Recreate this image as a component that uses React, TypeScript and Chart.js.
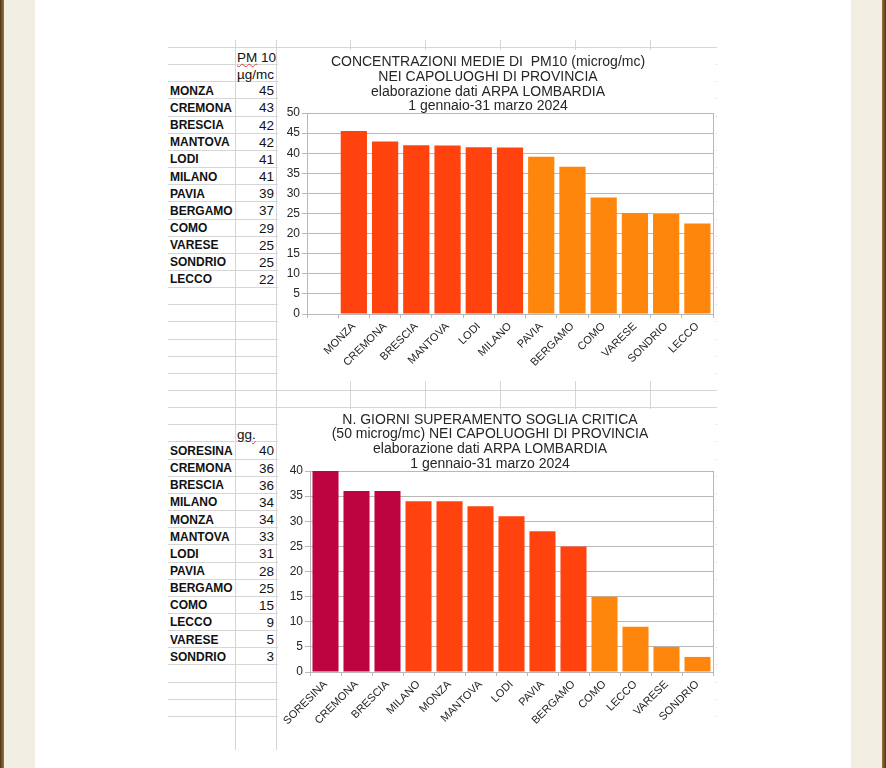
import React, { useEffect, useRef } from "react";
import { Chart, registerables } from "chart.js";

Chart.register(...registerables);

// ---------- DATA ----------
const PM10_CITIES = ["MONZA", "CREMONA", "BRESCIA", "MANTOVA", "LODI", "MILANO", "PAVIA", "BERGAMO", "COMO", "VARESE", "SONDRIO", "LECCO"];
const PM10_VALUES = [45.5, 42.9, 42.0, 41.9, 41.5, 41.4, 39.1, 36.6, 29.0, 25.1, 24.9, 22.5];
const PM10_TABLE = ["45", "43", "42", "42", "41", "41", "39", "37", "29", "25", "25", "22"];
const PM10_GROUPS = [1, 1, 1, 1, 1, 1, 2, 2, 2, 2, 2, 2];
const PM10_TITLE = [
  "CONCENTRAZIONI MEDIE DI  PM10 (microg/mc)",
  "NEI CAPOLUOGHI DI PROVINCIA",
  "elaborazione dati ARPA LOMBARDIA",
  "1 gennaio-31 marzo 2024",
];
const PM10_YTICKS = { min: 0, max: 50, step: 5 };

const DAYS_CITIES = ["SORESINA", "CREMONA", "BRESCIA", "MILANO", "MONZA", "MANTOVA", "LODI", "PAVIA", "BERGAMO", "COMO", "LECCO", "VARESE", "SONDRIO"];
const DAYS_VALUES = [40, 36, 36, 34, 34, 33, 31, 28, 25, 15, 9, 5, 3];
const DAYS_GROUPS = [0, 0, 0, 1, 1, 1, 1, 1, 1, 2, 2, 2, 2];
const DAYS_TITLE = [
  "N. GIORNI SUPERAMENTO SOGLIA CRITICA",
  "(50 microg/mc) NEI CAPOLUOGHI DI PROVINCIA",
  "elaborazione dati ARPA LOMBARDIA",
  "1 gennaio-31 marzo 2024",
];
const DAYS_YTICKS = { min: 0, max: 40, step: 5 };

// ---------- STYLE ----------
const GROUP_COLORS = ["#bd0340", "#ff420e", "#ff860d"];
const FONT = '"Liberation Sans", Arial, sans-serif';
const GRID = "#d6d6d6";
const PLOT_GRID = "#b8b8b8";
const TEXT = "#262626";

type ChartProps = {
  labels: string[];
  values: (number | null)[];
  colors: string[];
  title: string[];
  titleX: number;
  titleY: number;
  titleStep: number;
  yTicks: { min: number; max: number; step: number };
  yWidth: number;
  topPad: number;
  xHeight: number;
  left: number;
  top: number;
  width: number;
  height: number;
};

function BarChart(p: ChartProps) {
  const ref = useRef<HTMLCanvasElement | null>(null);
  useEffect(() => {
    if (!ref.current) return;
    const framePlugin = {
      id: "frameAndTitle",
      afterDatasetsDraw(chart: any) {
        const { ctx, chartArea } = chart;
        ctx.save();
        ctx.strokeStyle = PLOT_GRID;
        ctx.lineWidth = 1;
        ctx.beginPath();
        ctx.moveTo(Math.round(chartArea.right) + 0.5, chartArea.top);
        ctx.lineTo(Math.round(chartArea.right) + 0.5, chartArea.bottom);
        ctx.stroke();
        ctx.restore();
      },
      afterDraw(chart: any) {
        const { ctx } = chart;
        ctx.save();
        ctx.font = `14px ${FONT}`;
        ctx.fillStyle = TEXT;
        ctx.textAlign = "center";
        ctx.textBaseline = "middle";
        p.title.forEach((line, i) => ctx.fillText(line, p.titleX, p.titleY + i * p.titleStep));
        ctx.restore();
      },
    };
    const chart = new Chart(ref.current, {
      type: "bar",
      data: {
        labels: p.labels,
        datasets: [
          {
            data: p.values as any,
            backgroundColor: p.colors,
            borderWidth: 0,
            categoryPercentage: 1,
            barPercentage: 0.84,
          },
        ],
      },
      options: {
        responsive: false,
        animation: false,
        layout: { padding: { top: p.topPad, right: 3, bottom: 0, left: 0 } },
        plugins: { legend: { display: false }, title: { display: false }, tooltip: { enabled: false } },
        scales: {
          x: {
            grid: { display: true, drawOnChartArea: false, drawTicks: true, tickLength: 4, color: PLOT_GRID, offset: true },
            border: { display: true, color: PLOT_GRID },
            ticks: {
              minRotation: 45,
              maxRotation: 45,
              autoSkip: false,
              padding: 2,
              color: TEXT,
              font: { family: FONT, size: 11 },
            },
            afterFit: (s: any) => {
              s.height = p.xHeight;
            },
          },
          y: {
            min: p.yTicks.min,
            max: p.yTicks.max,
            grid: { color: PLOT_GRID, tickLength: 5 },
            border: { display: true, color: PLOT_GRID },
            ticks: { stepSize: p.yTicks.step, padding: 2, color: TEXT, font: { family: FONT, size: 12 } },
            afterFit: (s: any) => {
              s.width = p.yWidth;
            },
          },
        },
      },
      plugins: [framePlugin],
    });
    return () => chart.destroy();
  }, []);
  return (
    <canvas
      ref={ref}
      width={p.width}
      height={p.height}
      style={{ position: "absolute", left: p.left, top: p.top, width: p.width, height: p.height, background: "#fff", display: "block" }}
    />
  );
}

const ROW0 = 47;
const ROW_H = 17.15;
const rowTop = (k: number) => ROW0 + k * ROW_H;

export default function App() {
  const hLines = [];
  for (let k = 0; k <= 39; k++) {
    hLines.push(
      <div key={"h" + k} style={{ position: "absolute", left: 168, top: Math.round(rowTop(k)), width: 549, height: 1, background: GRID }} />
    );
  }
  const vFull = [235, 276];
  const vShort = [350, 425, 500, 575, 650];
  const nameStyle = (k: number): React.CSSProperties => ({
    position: "absolute",
    left: 170,
    top: rowTop(k) + 1.5,
    height: ROW_H,
    lineHeight: ROW_H + "px",
    fontSize: 12,
    fontWeight: "bold",
    color: "#111",
    whiteSpace: "nowrap",
  });
  const valStyle = (k: number): React.CSSProperties => ({
    position: "absolute",
    left: 236,
    width: 38,
    textAlign: "right",
    top: rowTop(k) + 1,
    height: ROW_H,
    lineHeight: ROW_H + 1 + "px",
    fontSize: 13.5,
    color: "#111",
    whiteSpace: "nowrap",
  });
  const headStyle = (k: number): React.CSSProperties => ({
    position: "absolute",
    left: 237,
    top: rowTop(k) + 1.5,
    height: ROW_H,
    lineHeight: ROW_H + 1 + "px",
    fontSize: 13.5,
    color: "#111",
    whiteSpace: "nowrap",
  });

  return (
    <div style={{ position: "absolute", left: 0, top: 0, width: 886, height: 768, overflow: "hidden", background: "#f3eee3", fontFamily: FONT }}>
      <div style={{ position: "absolute", left: 0, top: 0, width: 4, height: 768, background: "linear-gradient(90deg,#4e3718,#9a7436)" }} />
      <div style={{ position: "absolute", left: 882, top: 0, width: 4, height: 768, background: "linear-gradient(90deg,#9a7436,#4e3718)" }} />
      <div style={{ position: "absolute", left: 35, top: 0, width: 816, height: 768, background: "#fff" }} />
      {hLines}
      {vFull.map((x) => (
        <div key={"v" + x} style={{ position: "absolute", left: x, top: 40, width: 1, height: 710, background: GRID }} />
      ))}
      {vShort.map((x) => (
        <div key={"s" + x} style={{ position: "absolute", left: x, top: 40, width: 1, height: 700, background: GRID }} />
      ))}

      {/* table 1 */}
      <div style={headStyle(0)}>
        <span style={{ textDecoration: "underline wavy #e03a3a", textDecorationThickness: 1 }}>PM</span> 10
      </div>
      <div style={headStyle(1)}>µg/mc</div>
      {PM10_CITIES.map((c, i) => (
        <React.Fragment key={"t1" + c}>
          <div style={nameStyle(2 + i)}>{c}</div>
          <div style={valStyle(2 + i)}>{PM10_TABLE[i]}</div>
        </React.Fragment>
      ))}

      {/* table 2 */}
      <div style={headStyle(22)}>
        <span style={{ textDecoration: "underline wavy #e03a3a", textDecorationThickness: 1 }}>gg.</span>
      </div>
      {DAYS_CITIES.map((c, i) => (
        <React.Fragment key={"t2" + c}>
          <div style={nameStyle(23 + i)}>{c}</div>
          <div style={valStyle(23 + i)}>{String(DAYS_VALUES[i])}</div>
        </React.Fragment>
      ))}

      <BarChart
        labels={["", ...PM10_CITIES]}
        values={[null, ...PM10_VALUES]}
        colors={["#fff", ...PM10_GROUPS.map((g) => GROUP_COLORS[g])]}
        title={PM10_TITLE}
        titleX={210}
        titleY={12.5}
        titleStep={14.6}
        yTicks={PM10_YTICKS}
        yWidth={29}
        topPad={63}
        xHeight={67}
        left={278}
        top={50}
        width={438}
        height={331}
      />
      <BarChart
        labels={DAYS_CITIES}
        values={DAYS_VALUES}
        colors={DAYS_GROUPS.map((g) => GROUP_COLORS[g])}
        title={DAYS_TITLE}
        titleX={212}
        titleY={10.8}
        titleStep={14.7}
        yTicks={DAYS_YTICKS}
        yWidth={32}
        topPad={62}
        xHeight={68}
        left={278}
        top={409}
        width={438}
        height={331}
      />
    </div>
  );
}
